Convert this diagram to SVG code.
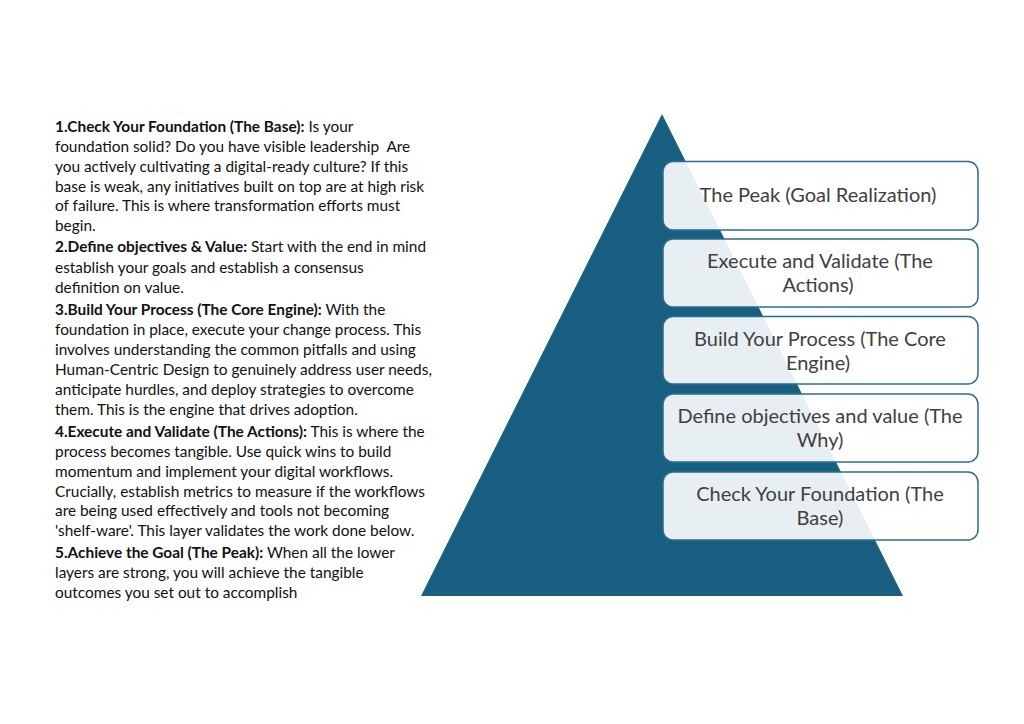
<svg xmlns="http://www.w3.org/2000/svg" width="1024" height="724" viewBox="0 0 1024 724">
<style>
.body{font-family:Lato,"Liberation Sans",sans-serif;font-size:15.4px;fill:#111;white-space:pre}
.b{font-weight:bold}
.box{fill:#ffffff;fill-opacity:0.9;stroke:#2b6d8e;stroke-width:1.5}
.lbl{font-family:Lato,"Liberation Sans",sans-serif;font-size:20px;fill:#404040;text-anchor:middle}
</style>
<rect width="1024" height="724" fill="#ffffff"/>
<g id="description">
<text class="body" x="55" y="132"><tspan class="b">1.Check Your Foundation (The Base):</tspan> Is your</text>
<text class="body" x="55" y="152" xml:space="preserve">foundation solid? Do you have visible leadership  Are</text>
<text class="body" x="55" y="172">you actively cultivating a digital-ready culture? If this</text>
<text class="body" x="55" y="192">base is weak, any initiatives built on top are at high risk</text>
<text class="body" x="55" y="211">of failure. This is where transformation efforts must</text>
<text class="body" x="55" y="231">begin.</text>
<text class="body" x="55" y="252"><tspan class="b">2.Define objectives &amp; Value:</tspan> Start with the end in mind</text>
<text class="body" x="55" y="273">establish your goals and establish a consensus</text>
<text class="body" x="55" y="293">definition on value.</text>
<text class="body" x="55" y="315"><tspan class="b">3.Build Your Process (The Core Engine):</tspan> With the</text>
<text class="body" x="55" y="335">foundation in place, execute your change process. This</text>
<text class="body" x="55" y="355">involves understanding the common pitfalls and using</text>
<text class="body" x="55" y="375">Human-Centric Design to genuinely address user needs,</text>
<text class="body" x="55" y="395">anticipate hurdles, and deploy strategies to overcome</text>
<text class="body" x="55" y="415">them. This is the engine that drives adoption.</text>
<text class="body" x="55" y="437"><tspan class="b">4.Execute and Validate (The Actions):</tspan> This is where the</text>
<text class="body" x="55" y="457">process becomes tangible. Use quick wins to build</text>
<text class="body" x="55" y="477">momentum and implement your digital workflows.</text>
<text class="body" x="55" y="497">Crucially, establish metrics to measure if the workflows</text>
<text class="body" x="55" y="516">are being used effectively and tools not becoming</text>
<text class="body" x="55" y="536">'shelf-ware'. This layer validates the work done below.</text>
<text class="body" x="55" y="558"><tspan class="b">5.Achieve the Goal (The Peak):</tspan> When all the lower</text>
<text class="body" x="55" y="578">layers are strong, you will achieve the tangible</text>
<text class="body" x="55" y="598">outcomes you set out to accomplish</text>
</g>
<g id="pyramid">
<polygon points="662,114 421,596 903,596" fill="#185f81"/>
</g>
<g id="layer-peak">
<rect class="box" x="663" y="161.5" width="315" height="68.5" rx="10"/>
<text class="lbl" x="818" y="202">The Peak (Goal Realization)</text>
</g>
<g id="layer-execute">
<rect class="box" x="663" y="239" width="315" height="68" rx="10"/>
<text class="lbl" x="820" y="268">Execute and Validate (The</text>
<text class="lbl" x="818" y="292">Actions)</text>
</g>
<g id="layer-build">
<rect class="box" x="663" y="316.5" width="315" height="67.5" rx="10"/>
<text class="lbl" x="820" y="346">Build Your Process (The Core</text>
<text class="lbl" x="818" y="370">Engine)</text>
</g>
<g id="layer-define">
<rect class="box" x="663" y="394" width="315" height="68" rx="10"/>
<text class="lbl" x="820" y="423">Define objectives and value (The</text>
<text class="lbl" x="820" y="447">Why)</text>
</g>
<g id="layer-foundation">
<rect class="box" x="663" y="472" width="315" height="68" rx="10"/>
<text class="lbl" x="820" y="501">Check Your Foundation (The</text>
<text class="lbl" x="820" y="525">Base)</text>
</g>
<g id="connectors"></g>
</svg>
